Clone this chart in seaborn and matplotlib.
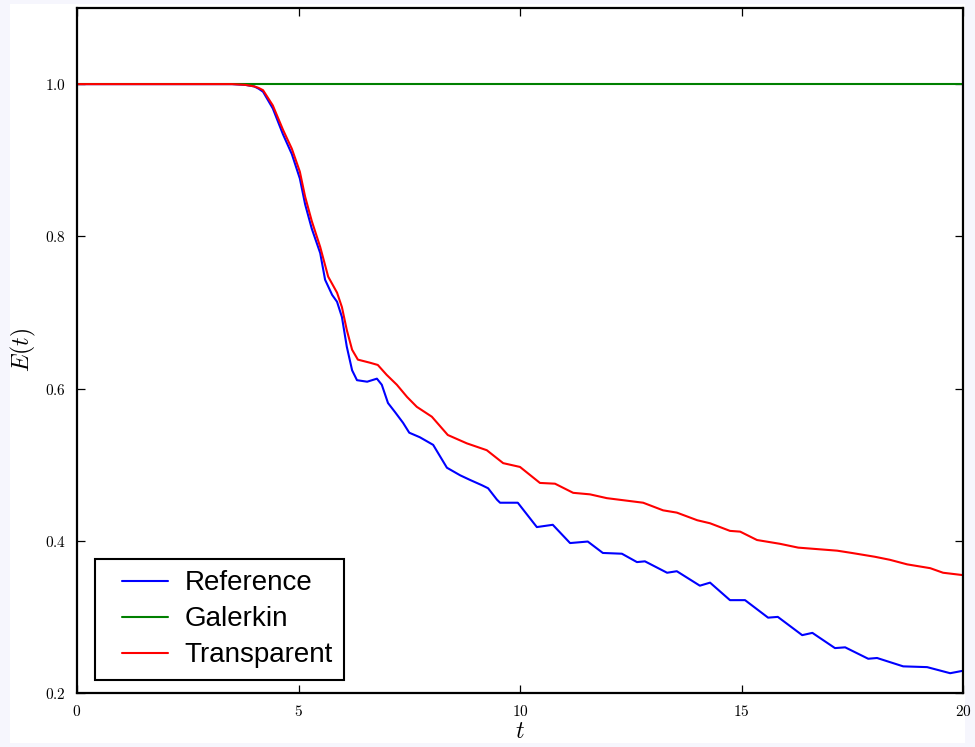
import matplotlib
matplotlib.use("Agg")
import matplotlib.pyplot as plt
import matplotlib.ticker as mticker
from matplotlib.patches import Rectangle
from matplotlib.lines import Line2D
from matplotlib.legend_handler import HandlerLine2D
import seaborn as sns
import pandas as pd

# ---- data ----
ref_t = [0, 1, 2, 3, 3.5, 3.8, 3.9, 4.0, 4.1, 4.2, 4.42, 4.65, 4.85, 5.03, 5.15, 5.3,
         5.49, 5.6, 5.76, 5.87, 5.98, 6.09, 6.21, 6.32, 6.55, 6.77, 6.88, 7.02, 7.18,
         7.36, 7.5, 7.74, 8.04, 8.35, 8.65, 8.87, 9.14, 9.28, 9.48, 9.55, 9.95, 10.38,
         10.74, 11.13, 11.53, 11.87, 12.3, 12.64, 12.82, 13.32, 13.54, 14.06, 14.29,
         14.74, 15.08, 15.6, 15.82, 16.37, 16.6, 17.11, 17.34, 17.86, 18.06, 18.65,
         19.19, 19.71, 19.98]
ref_E = [1.0, 1.0, 1.0, 1.0, 1.0, 0.999, 0.998, 0.997, 0.994, 0.99, 0.968, 0.934,
         0.908, 0.876, 0.842, 0.81, 0.778, 0.743, 0.723, 0.714, 0.694, 0.655, 0.624,
         0.611, 0.609, 0.613, 0.605, 0.581, 0.569, 0.555, 0.542, 0.536, 0.526, 0.496,
         0.486, 0.48, 0.473, 0.469, 0.454, 0.45, 0.45, 0.418, 0.421, 0.397, 0.399,
         0.384, 0.383, 0.372, 0.373, 0.358, 0.36, 0.341, 0.345, 0.322, 0.322, 0.299,
         0.3, 0.276, 0.279, 0.259, 0.26, 0.245, 0.246, 0.235, 0.234, 0.226, 0.229]

gal_t = [0, 5, 10, 15, 20]
gal_E = [1.0, 1.0, 1.0, 1.0, 1.0]

tra_t = [0, 1, 2, 3, 3.5, 3.8, 3.9, 4.0, 4.1, 4.2, 4.42, 4.65, 4.85, 5.03, 5.15, 5.3,
         5.49, 5.67, 5.87, 5.98, 6.09, 6.21, 6.34, 6.61, 6.79, 6.99, 7.22, 7.45, 7.67,
         8.01, 8.37, 8.8, 9.25, 9.62, 10.0, 10.45, 10.79, 11.2, 11.58, 11.96, 12.78,
         13.23, 13.54, 14.0, 14.29, 14.74, 14.97, 15.35, 15.87, 16.28, 17.16, 17.49,
         18.01, 18.35, 18.74, 19.26, 19.55, 19.98]
tra_E = [1.0, 1.0, 1.0, 1.0, 1.0, 0.999, 0.998, 0.997, 0.995, 0.992, 0.972, 0.94,
         0.915, 0.885, 0.852, 0.82, 0.786, 0.747, 0.726, 0.707, 0.677, 0.651, 0.638,
         0.634, 0.631, 0.618, 0.605, 0.589, 0.576, 0.563, 0.539, 0.528, 0.519, 0.502,
         0.497, 0.476, 0.475, 0.463, 0.461, 0.456, 0.45, 0.44, 0.437, 0.427, 0.423,
         0.413, 0.412, 0.401, 0.396, 0.391, 0.387, 0.384, 0.379, 0.375, 0.369, 0.364,
         0.358, 0.355]

series_names = ["Reference", "Galerkin", "Transparent"]
series_colors = ["#0000ff", "#008000", "#ff0000"]
x_ticks = [0, 5, 10, 15, 20]
y_ticks = [0.2, 0.4, 0.6, 0.8, 1.0]

df = pd.concat([
    pd.DataFrame({"t": ref_t, "E": ref_E, "method": series_names[0]}),
    pd.DataFrame({"t": gal_t, "E": gal_E, "method": series_names[1]}),
    pd.DataFrame({"t": tra_t, "E": tra_E, "method": series_names[2]}),
], ignore_index=True)

sns.set_style("ticks")
plt.rcParams["mathtext.fontset"] = "cm"
plt.rcParams["font.family"] = ["DejaVu Serif"]
plt.rcParams["text.color"] = "black"
plt.rcParams["axes.labelcolor"] = "black"

fig = plt.figure(figsize=(9.75, 7.47), dpi=100, facecolor="#f6f6fd")
fig.patches.append(Rectangle((10 / 975, 1 - 743 / 747), (965 - 10) / 975, (743 - 4) / 747,
                             transform=fig.transFigure, facecolor="white",
                             edgecolor="none", zorder=-10))
ax = fig.add_axes([77 / 975, 1 - 693 / 747, (963 - 77) / 975, (693 - 8) / 747])
ax.set_facecolor("white")

sns.lineplot(data=df, x="t", y="E", hue="method", hue_order=series_names,
             palette=dict(zip(series_names, series_colors)), linewidth=1.5,
             sort=False, estimator=None, ax=ax)
for ln in ax.get_lines():
    ln.set_solid_joinstyle("round")

ax.set_xlim(0, 20)
ax.set_ylim(0.2, 1.1)
ax.set_xticks(x_ticks)
ax.set_yticks(y_ticks)
ax.xaxis.set_major_formatter(mticker.FuncFormatter(lambda v, p: f"${v:g}$"))
ax.yaxis.set_major_formatter(mticker.FuncFormatter(lambda v, p: f"${v:.1f}$"))
ax.tick_params(direction="in", length=6, width=0.9, top=True, right=True,
               labelsize=11, pad=8, colors="black")
for s in ax.spines.values():
    s.set_visible(True)
    s.set_linewidth(1.6)
    s.set_color("black")

ax.set_xlabel("$t$", fontsize=17, labelpad=1, color="black")
ax.set_ylabel("$E(t)$", fontsize=17, labelpad=5, color="black")

leg = ax.legend(loc="lower left", bbox_to_anchor=(18 / 886, 13 / 685), frameon=True,
                fancybox=False, framealpha=1, edgecolor="black", labelcolor="black",
                prop={"family": "Liberation Sans", "size": 20},
                handlelength=2.2, handletextpad=0.6, borderpad=0.42,
                labelspacing=0.36, borderaxespad=0,
                handler_map={Line2D: HandlerLine2D(xpad=0.55)})
leg.get_frame().set_linewidth(1.5)
for h in leg.get_lines():
    h.set_linewidth(1.5)

fig.savefig("out.png", dpi=100, facecolor=fig.get_facecolor())
